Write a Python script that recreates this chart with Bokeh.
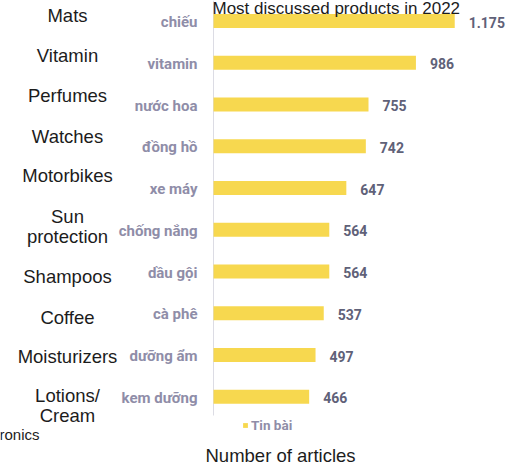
from bokeh.plotting import figure
from bokeh.models import Range1d, ColumnDataSource, Legend, LegendItem
from bokeh.core.properties import value
from bokeh.embed import file_html
from bokeh.resources import INLINE

# ---- data ----
vi_labels = ["chiếu", "vitamin", "nước hoa", "đồng hồ", "xe máy",
             "chống nắng", "dầu gội", "cà phê", "dưỡng ẩm", "kem dưỡng"]
en_labels = ["Mats", "Vitamin", "Perfumes", "Watches", "Motorbikes",
             "Sun\nprotection", "Shampoos", "Coffee", "Moisturizers", "Lotions/\nCream"]
articles = [1175, 986, 755, 742, 647, 564, 564, 537, 497, 466]
title_text = "Most discussed products in 2022"
xlabel_text = "Number of articles"
legend_text = "Tin bài"
cut_text = "ronics"

# ---- layout / style (not data) ----
W, H = 514, 466
PX_PER_UNIT = 0.2053
AXIS_PX = 213
ROW0_PX = 20.5
ROW_PX = 41.75
en_y_shift = [-6, -7, -9, -10, -13, -3, 5, 4, 1, 9]

idx = list(range(len(articles)))
src = ColumnDataSource(dict(
    y=idx, v=articles, vi=vi_labels, en=en_labels,
    vlab=[f"{v:,}".replace(",", ".") for v in articles],
    ens=en_y_shift,
))

top_y = -ROW0_PX / ROW_PX
bot_y = (H - ROW0_PX) / ROW_PX

p = figure(width=W, height=H, output_backend="svg", toolbar_location=None,
           x_range=Range1d(-AXIS_PX / PX_PER_UNIT, (W - AXIS_PX) / PX_PER_UNIT),
           y_range=Range1d(bot_y, top_y),
           min_border=0, outline_line_color=None)
p.axis.visible = False
p.grid.visible = False
p.background_fill_color = "white"
p.border_fill_color = "white"

# axis line
p.segment(x0=[0], y0=[top_y], x1=[0], y1=[(415 - ROW0_PX) / ROW_PX],
          line_color="#dcdce4", line_width=1)

bars = p.hbar(y="y", right="v", left=0, height=14 / ROW_PX, source=src,
              fill_color="#f7d84f", line_color=None)

# value labels
p.text(x="v", y="y", text="vlab", source=src, x_offset=14, y_offset=1,
       text_align="left", text_baseline="middle",
       text_font=value("Roboto"), text_font_style="bold",
       text_font_size="14px", text_color="#606178")

# vietnamese category labels
p.text(x=0, y="y", text="vi", source=src, x_offset=-16, y_offset=1,
       text_align="right", text_baseline="middle",
       text_font=value("Roboto"), text_font_style="bold",
       text_font_size="15px", text_color="#8f8da8")

# english overlay labels
p.text(x=0, y="y", text="en", source=src, x_offset=-146, y_offset="ens",
       text_align="center", text_baseline="middle",
       text_font=value("Liberation Sans"),
       text_font_size="18.5px", text_color="#1c1c1c", text_line_height=0.95)

# title
p.text(x=[0], y=[top_y], text=[title_text], x_offset=-1, y_offset=8,
       text_align="left", text_baseline="middle",
       text_font=value("Liberation Sans"), text_font_size="17px",
       text_color="#1c1c1c")

# x label
p.text(x=[0], y=[bot_y], text=[xlabel_text], x_offset=-8, y_offset=-11,
       text_align="left", text_baseline="middle",
       text_font=value("Liberation Sans"), text_font_size="18.5px",
       text_color="#1c1c1c")

# cut-off text at left
p.text(x=[-AXIS_PX / PX_PER_UNIT], y=[(434 - ROW0_PX) / ROW_PX], text=[cut_text],
       x_offset=-1, text_align="left", text_baseline="middle",
       text_font=value("Liberation Sans"), text_font_size="15px",
       text_color="#1c1c1c")

legend = Legend(items=[LegendItem(label=legend_text, renderers=[bars])],
                location=(242, 33), orientation="horizontal",
                glyph_width=6, glyph_height=6, label_standoff=3,
                label_height=12, label_text_font="Roboto",
                label_text_font_style="bold", label_text_font_size="13.5px",
                label_text_color="#8f8da8", padding=0, margin=0, spacing=0,
                background_fill_alpha=0, border_line_alpha=0)
p.add_layout(legend, "center")

open("out.html", "w").write(file_html(p, INLINE))
